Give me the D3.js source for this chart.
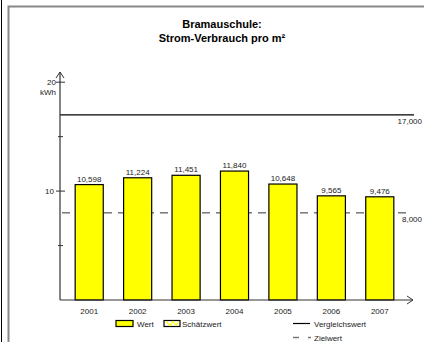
<!DOCTYPE html>
<html><head><meta charset="utf-8">
<script src="https://cdn.jsdelivr.net/npm/d3@7"></script>
<style>body{margin:0;background:#fff}svg{display:block;font-family:"Liberation Sans",Arial,sans-serif}</style>
</head><body>
<svg id="c" width="424" height="342"></svg>
<script>
const years = ["2001","2002","2003","2004","2005","2006","2007"];
const values = [10.598, 11.224, 11.451, 11.840, 10.648, 9.565, 9.476];
const valueLabels = ["10,598","11,224","11,451","11,840","10,648","9,565","9,476"];
const vergleichswert = 17;
const vergleichLabel = "17,000";
const zielwert = 8;
const zielLabel = "8,000";
const majorTicks = [10, 20];
const minorTicks = [5, 15];
const titleLines = ["Bramauschule:", "Strom-Verbrauch pro m²"];

const svg = d3.select("#c");
// frame
svg.append("line").attr("x1",1.5).attr("x2",1.5).attr("y1",0).attr("y2",342).attr("stroke","#000").attr("stroke-width",1);
svg.append("path").attr("d","M8.5,342V6.5H424").attr("fill","none").attr("stroke","#888").attr("stroke-width",2);

const x0 = 60, yBase = 300;
const x = d3.scaleBand().domain(years).range([65, 404]).paddingInner(0.42).paddingOuter(0.21);
const y = d3.scaleLinear().domain([0, 20]).range([yBase, 82.2]);

// title
svg.append("g").selectAll("text").data(titleLines).join("text")
  .attr("x", 222).attr("y", (d,i)=>28+i*13.5).attr("text-anchor","middle")
  .attr("font-weight","bold").attr("font-size",11).text(d=>d);

// dashed target line (behind bars)
svg.append("line").attr("x1",x0).attr("x2",407).attr("y1",y(zielwert)).attr("y2",y(zielwert))
  .attr("stroke","#333").attr("stroke-width",1).attr("stroke-dasharray","8,6").attr("stroke-dashoffset",-2);
svg.append("text").attr("x",422).attr("y",y(zielwert)+9).attr("text-anchor","end").attr("font-size",8).attr("fill","#222").text(zielLabel);

// comparison line
svg.append("line").attr("x1",x0).attr("x2",414).attr("y1",y(vergleichswert)).attr("y2",y(vergleichswert))
  .attr("stroke","#000").attr("stroke-width",1.2);
svg.append("text").attr("x",422).attr("y",y(vergleichswert)+9).attr("text-anchor","end").attr("font-size",8).attr("fill","#222").text(vergleichLabel);

// bars
svg.append("g").selectAll("rect").data(values).join("rect")
  .attr("x",(d,i)=>x(years[i])).attr("width",x.bandwidth())
  .attr("y",d=>y(d)).attr("height",d=>yBase-y(d))
  .attr("fill","#ffff00").attr("stroke","#000").attr("stroke-width",1.2);
svg.append("g").selectAll("text").data(values).join("text")
  .attr("x",(d,i)=>x(years[i])+x.bandwidth()/2).attr("y",d=>y(d)-3)
  .attr("text-anchor","middle").attr("font-size",8).attr("fill","#222").text((d,i)=>valueLabels[i]);

// axes
const ax = "#333";
svg.append("line").attr("x1",x0).attr("x2",x0).attr("y1",yBase).attr("y2",72).attr("stroke",ax).attr("stroke-width",1.2);
svg.append("path").attr("d",`M${x0-4},${78}L${x0},${72}L${x0+4},${78}`).attr("fill","none").attr("stroke",ax).attr("stroke-width",1);
svg.append("line").attr("x1",x0).attr("x2",413).attr("y1",yBase).attr("y2",yBase).attr("stroke",ax).attr("stroke-width",1.2);
svg.append("path").attr("d",`M${407},${yBase-4}L${413},${yBase}L${407},${yBase+4}`).attr("fill","none").attr("stroke",ax).attr("stroke-width",1);

svg.append("g").selectAll("line").data(majorTicks).join("line")
  .attr("x1",56).attr("x2",65).attr("y1",d=>y(d)).attr("y2",d=>y(d)).attr("stroke",ax).attr("stroke-width",1);
svg.append("g").selectAll("line").data(minorTicks).join("line")
  .attr("x1",58).attr("x2",63).attr("y1",d=>y(d)).attr("y2",d=>y(d)).attr("stroke",ax).attr("stroke-width",1);
svg.append("g").selectAll("text").data(majorTicks).join("text")
  .attr("x",d=>d===20?56:54).attr("y",d=>y(d)+3).attr("text-anchor","end").attr("font-size",8).attr("fill","#222").text(d=>d);
svg.append("text").attr("x",56).attr("y",y(20)+12.5).attr("text-anchor","end").attr("font-size",8).attr("fill","#222").text("kWh");

svg.append("g").selectAll("text").data(years).join("text")
  .attr("x",d=>x(d)+x.bandwidth()/2).attr("y",314).attr("text-anchor","middle").attr("font-size",8).attr("fill","#222").text(d=>d);

// legend
const lg = svg.append("g").attr("font-size",8).attr("fill","#222");
lg.append("rect").attr("x",116).attr("y",320.5).attr("width",17).attr("height",6).attr("fill","#ffff00").attr("stroke","#000").attr("stroke-width",1.2);
lg.append("text").attr("x",137).attr("y",327).text("Wert");
lg.append("rect").attr("x",164).attr("y",320.5).attr("width",16).attr("height",6).attr("fill","#fff").attr("stroke","#000").attr("stroke-width",1.2);
lg.append("path").attr("d","M166,321.5L170,325.5L173,321.5L176,325.5L179,321.5").attr("fill","none").attr("stroke","#ffff00").attr("stroke-width",1.2);
lg.append("text").attr("x",182).attr("y",327).text("Schätzwert");
lg.append("line").attr("x1",293).attr("x2",310).attr("y1",323.5).attr("y2",323.5).attr("stroke","#000").attr("stroke-width",1.2);
lg.append("text").attr("x",314).attr("y",327).text("Vergleichswert");
lg.append("line").attr("x1",293).attr("x2",311).attr("y1",337.5).attr("y2",337.5).attr("stroke","#777").attr("stroke-width",1.5).attr("stroke-dasharray","6,9");
lg.append("text").attr("x",314).attr("y",340.5).text("Zielwert");
</script>
</body></html>
